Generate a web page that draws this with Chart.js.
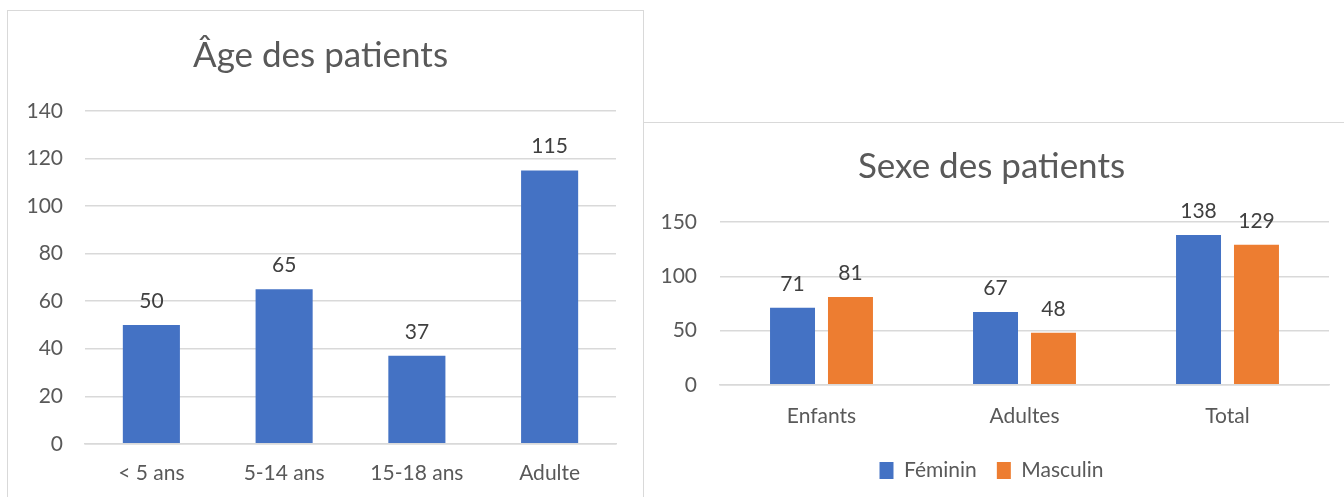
<!DOCTYPE html>
<html>
<head>
<meta charset="utf-8">
<script src="https://cdn.jsdelivr.net/npm/chart.js@4.4.0/dist/chart.umd.min.js"></script>
<style>
  body { margin: 0; background: #fff; width: 1344px; height: 497px; overflow: hidden; position: relative; }
  .panel { position: absolute; background: #fff; border: 1px solid #d9d9d9; box-sizing: border-box; }
  #p1 { left: 7px; top: 10px; width: 637px; height: 500px; }
  #p2 { left: 643px; top: 122px; width: 710px; height: 390px; }
</style>
</head>
<body>
<div class="panel" id="p1"><canvas id="ageChart" width="635" height="498"></canvas></div>
<div class="panel" id="p2"><canvas id="sexChart" width="708" height="388"></canvas></div>
<script>
// donnees graphique 1
var ageLabels = ['< 5 ans', '5-14 ans', '15-18 ans', 'Adulte'];
var ageValues = [50, 65, 37, 115];

// donnees graphique 2
var sexLabels = ['Enfants', 'Adultes', 'Total'];
var femininValues = [71, 67, 138];
var masculinValues = [81, 48, 129];

var fontFam = 'Lato, "Open Sans", sans-serif';
var textCol = '#595959';
var gridCol = '#d9d9d9';

// etiquettes de valeurs au-dessus des barres
var valueLabels = {
  id: 'valueLabels',
  afterDatasetsDraw: function (chart) {
    var ctx = chart.ctx;
    ctx.save();
    ctx.font = '21px ' + fontFam;
    ctx.fillStyle = '#404040';
    ctx.textAlign = 'center';
    ctx.textBaseline = 'alphabetic';
    chart.data.datasets.forEach(function (ds, i) {
      chart.getDatasetMeta(i).data.forEach(function (bar, j) {
        ctx.fillText(ds.data[j], bar.x, bar.y - 17);
      });
    });
    ctx.restore();
  }
};

function yScale(max, step, w, pad) {
  return {
    min: 0, max: max,
    afterFit: function (scale) { scale.width = w; },
    ticks: { stepSize: step, color: textCol, font: { size: 21, family: fontFam }, padding: pad },
    grid: { color: gridCol, lineWidth: 1.5, drawTicks: false },
    border: { display: false }
  };
}
function xScale(pad) {
  return {
    ticks: { color: textCol, font: { size: 21, family: fontFam }, padding: pad },
    grid: { display: false },
    border: { color: gridCol, width: 1.5 }
  };
}

new Chart(document.getElementById('ageChart'), {
  type: 'bar',
  data: {
    labels: ageLabels,
    datasets: [{ label: 'Âge', data: ageValues, backgroundColor: '#4472c4', barPercentage: 0.43, categoryPercentage: 1 }]
  },
  options: {
    responsive: false,
    animation: false,
    layout: { padding: { left: 17, right: 27, top: 24, bottom: 14 } },
    plugins: {
      legend: { display: false },
      tooltip: { enabled: false },
      title: { display: true, text: 'Âge des patients', color: textCol, font: { size: 35, family: fontFam, weight: 'normal' }, padding: { top: 0, bottom: 34 } }
    },
    scales: { x: xScale(9), y: yScale(140, 20, 60, 22) }
  },
  plugins: [valueLabels]
});

new Chart(document.getElementById('sexChart'), {
  type: 'bar',
  data: {
    labels: sexLabels,
    datasets: [
      { label: 'Féminin', data: femininValues, backgroundColor: '#4472c4', barPercentage: 0.776, categoryPercentage: 0.571 },
      { label: 'Masculin', data: masculinValues, backgroundColor: '#ed7d31', barPercentage: 0.776, categoryPercentage: 0.571 }
    ]
  },
  options: {
    responsive: false,
    animation: false,
    layout: { padding: { left: 10, right: 23, top: 23, bottom: 20 } },
    plugins: {
      legend: {
        position: 'bottom',
        labels: { color: textCol, font: { size: 21, family: fontFam }, boxWidth: 14, boxHeight: 17, padding: 20 }
      },
      tooltip: { enabled: false },
      title: { display: true, text: 'Sexe des patients', color: textCol, font: { size: 35, family: fontFam, weight: 'normal' }, padding: { top: 0, bottom: 34 } }
    },
    scales: { x: xScale(11), y: yScale(150, 50, 66, 23) }
  },
  plugins: [valueLabels]
});
</script>
</body>
</html>
